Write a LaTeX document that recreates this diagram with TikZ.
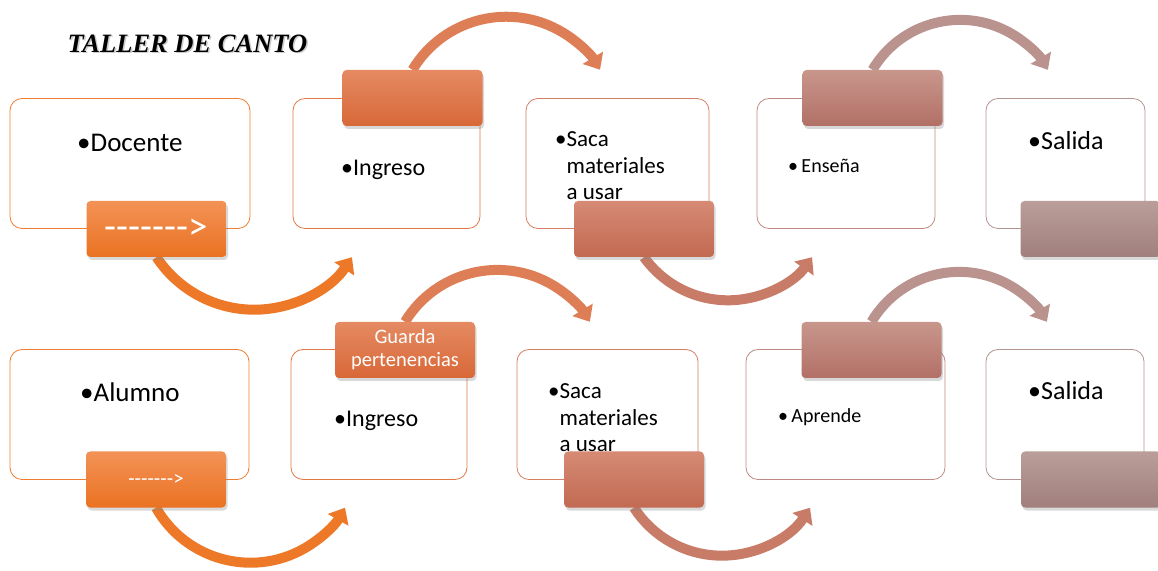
\documentclass[tikz,border=0pt]{standalone}
\usepackage{fontspec}
\setmainfont{Carlito}
\newfontfamily\titlefont{Liberation Serif}
\usetikzlibrary{arrows.meta,shadows,backgrounds}
\definecolor{EdgeA}{RGB}{237,125,49}
\definecolor{EdgeB}{RGB}{226,120,70}
\definecolor{EdgeC}{RGB}{212,126,100}
\definecolor{EdgeD}{RGB}{192,138,132}
\definecolor{EdgeE}{RGB}{180,148,145}
\definecolor{TopA}{RGB}{243,146,86}
\definecolor{BotA}{RGB}{234,114,34}
\definecolor{TopB}{RGB}{229,138,98}
\definecolor{BotB}{RGB}{216,104,56}
\definecolor{TopC}{RGB}{214,138,116}
\definecolor{BotC}{RGB}{194,106,82}
\definecolor{TopD}{RGB}{200,150,140}
\definecolor{BotD}{RGB}{178,112,102}
\definecolor{TopE}{RGB}{186,158,154}
\definecolor{BotE}{RGB}{160,127,124}
\definecolor{ArcA}{RGB}{237,121,40}
\definecolor{ArcB}{RGB}{222,126,86}
\definecolor{ArcC}{RGB}{200,124,104}
\definecolor{ArcD}{RGB}{186,146,142}

\tikzset{
  taskbox/.style 2 args={draw=#1,line width=.8pt,rounded corners=12pt,fill=white,
    minimum width=#2,minimum height=130pt,inner sep=0pt},
  tagbox/.style 2 args={rounded corners=4pt,top color=#1,bottom color=#2,
    minimum width=140pt,minimum height=56pt,inner sep=0pt,text=white,align=center,
    drop shadow={shadow xshift=1.5pt,shadow yshift=-3pt,opacity=.3}},
  arcarrow/.style={draw=#1,line width=10pt,-{Triangle[length=14pt,width=23pt]}},
  txt/.style 2 args={anchor=base west,inner sep=0pt,font=\fontsize{#1}{#2}\selectfont}
}

\begin{document}
\begin{tikzpicture}[x=1pt,y=1pt]
\useasboundingbox (0,0) rectangle (1158,570);

\node[inner sep=0pt,text=black!20,font=\titlefont\bfseries\itshape\fontsize{26.5}{30}\selectfont] (tshadow) at (189,524.8) {TALLER DE CANTO};
\node[inner sep=0pt,font=\titlefont\bfseries\itshape\fontsize{26.5}{30}\selectfont] (title) at (187.5,526) {TALLER DE CANTO};

% docente
\node[taskbox={EdgeA}{240pt}] (b1) at (130,406.5) {};
\node[taskbox={EdgeB}{187pt}] (b2) at (386.5,406.5) {};
\node[taskbox={EdgeC}{183pt}] (b3) at (617.5,406.5) {};
\node[taskbox={EdgeD}{178pt}] (b4) at (846,406.5) {};
\node[taskbox={EdgeE}{159pt}] (b5) at (1065.5,406.5) {};

\node[txt={27}{31}] (s1) at (77,418) {•Docente};
\node[txt={24}{26.5}] (s2) at (341,394) {•Ingreso};
\node[txt={23}{26.5}] (s3) at (555,423) {•\begin{tabular}[t]{@{}l@{}}Saca\\materiales\\a usar\end{tabular}};
\node[txt={20}{23}] (s4) at (788,397) {•\,Enseña};
\node[txt={26}{30}] (s5) at (1028,420) {•Salida};

\node[tagbox={TopA}{BotA},font=\fontsize{39}{39}\selectfont] (l1) at (156.5,341) {-{}-{}-{}-{}-{}-{}->};
\node[tagbox={TopB}{BotB}] (l2) at (412.5,472) {};
\node[tagbox={TopC}{BotC}] (l3) at (644,341) {};
\node[tagbox={TopD}{BotD}] (l4) at (872.5,472) {};
\node[tagbox={TopE}{BotE}] (l5) at (1090.5,341) {};

% alumno
\node[taskbox={EdgeA}{239pt}] (B1) at (129.5,155.5) {};
\node[taskbox={EdgeB}{176pt}] (B2) at (379,155.5) {};
\node[taskbox={EdgeC}{181pt}] (B3) at (607.5,155.5) {};
\node[taskbox={EdgeD}{199pt}] (B4) at (845.5,155.5) {};
\node[taskbox={EdgeE}{158pt}] (B5) at (1065,155.5) {};

\node[txt={27}{31}] (S1) at (80,168) {•Alumno};
\node[txt={24}{26.5}] (S2) at (334,143) {•Ingreso};
\node[txt={23}{26.5}] (S3) at (548,171) {•\begin{tabular}[t]{@{}l@{}}Saca\\materiales\\a usar\end{tabular}};
\node[txt={20}{23}] (S4) at (778,147) {•\,Aprende};
\node[txt={26}{30}] (S5) at (1028,170) {•Salida};

\node[tagbox={TopA}{BotA},font=\fontsize{21}{21}\selectfont] (L1) at (156,90.5) {-{}-{}-{}-{}-{}-{}->};
\node[tagbox={TopB}{BotB},font=\fontsize{20.5}{23}\selectfont] (L2) at (405,220) {Guarda\\pertenencias};
\node[tagbox={TopC}{BotC}] (L3) at (634,90.5) {};
\node[tagbox={TopD}{BotD}] (L4) at (871.5,220) {};
\node[tagbox={TopE}{BotE}] (L5) at (1091,90.5) {};

\begin{scope}[on background layer]
\draw[arcarrow=ArcA] (l1.south) arc[start angle=213.5,end angle=326.5,radius=117.2];
\draw[arcarrow=ArcB] (l2.north) arc[start angle=149,end angle=31,radius=109.4];
\draw[arcarrow=ArcC] (l3.south) arc[start angle=215.7,end angle=324.3,radius=103.5];
\draw[arcarrow=ArcD] (l4.north) arc[start angle=149.3,end angle=30.7,radius=102];
\draw[arcarrow=ArcA] (L1.south) arc[start angle=209.6,end angle=330.4,radius=108.7];
\draw[arcarrow=ArcB] (L2.north) arc[start angle=148.6,end angle=31.4,radius=108.3];
\draw[arcarrow=ArcC] (L3.south) arc[start angle=212.8,end angle=327.2,radius=104.7];
\draw[arcarrow=ArcD] (L4.north) arc[start angle=149.3,end angle=30.7,radius=102];
\end{scope}
\end{tikzpicture}
\end{document}
